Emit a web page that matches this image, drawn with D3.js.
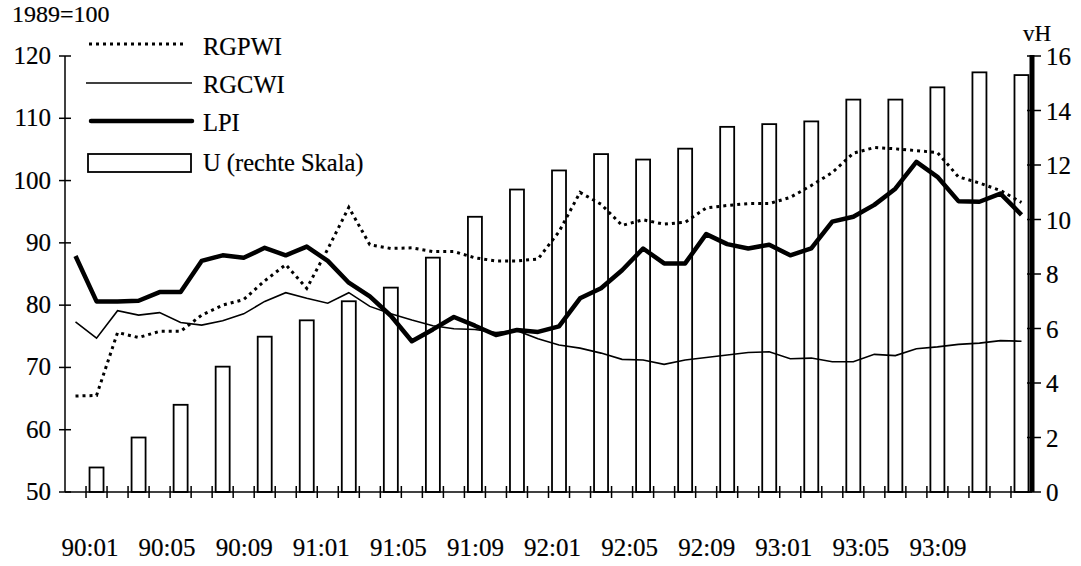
<!DOCTYPE html>
<html lang="de">
<meta charset="utf-8">
<head>
<script src="https://d3js.org/d3.v7.min.js"></script>
<style>
  body { margin: 0; background: #fff; }
  svg text { font-family: "Liberation Serif", "DejaVu Serif", serif; fill: #000; stroke: #000; stroke-width: 0.2px; }
</style>
</head>
<body>
<svg id="chart" width="1081" height="566"></svg>
<script>
// months 90:01 .. 93:10
var months = ["90:01","90:02","90:03","90:04","90:05","90:06","90:07","90:08","90:09","90:10","90:11","90:12",
              "91:01","91:02","91:03","91:04","91:05","91:06","91:07","91:08","91:09","91:10","91:11","91:12",
              "92:01","92:02","92:03","92:04","92:05","92:06","92:07","92:08","92:09","92:10","92:11","92:12",
              "93:01","93:02","93:03","93:04","93:05","93:06","93:07","93:08","93:09","93:10"];

var xLabels = ["90:01","90:05","90:09","91:01","91:05","91:09","92:01","92:05","92:09","93:01","93:05","93:09"];

var rgpwi = [65.4,65.5,75.6,74.8,75.8,75.8,78.4,80.0,80.9,83.9,86.5,82.7,
             89.0,95.7,89.7,89.1,89.2,88.6,88.6,87.6,87.1,87.1,87.4,91.8,
             98.1,96.2,92.8,93.7,93.0,93.3,95.6,96.0,96.3,96.3,97.3,99.2,
             101.3,104.4,105.3,105.1,104.8,104.5,100.6,99.6,98.4,96.5];

var rgcwi = [77.3,74.7,79.1,78.4,78.8,77.2,76.8,77.5,78.6,80.6,82.0,81.1,
             80.3,82.0,79.8,78.6,77.6,76.7,76.2,76.1,75.6,75.9,74.6,73.6,
             73.1,72.3,71.3,71.2,70.5,71.2,71.6,72.0,72.4,72.5,71.4,71.5,
             70.9,70.9,72.1,71.9,73.0,73.3,73.7,73.9,74.3,74.2];

var lpi = [87.9,80.6,80.6,80.7,82.1,82.1,87.1,88.0,87.6,89.2,88.0,89.4,
           87.1,83.6,81.4,78.3,74.2,76.1,78.1,76.7,75.2,76.0,75.7,76.6,
           81.1,82.7,85.6,89.1,86.7,86.7,91.4,89.8,89.1,89.7,88.0,89.1,
           93.4,94.2,96.1,98.7,103.0,100.6,96.7,96.6,97.9,94.5];

// unemployment rate, every second month (right scale, vH)
var uMonths = ["90:02","90:04","90:06","90:08","90:10","90:12","91:02","91:04","91:06","91:08","91:10","91:12",
               "92:02","92:04","92:06","92:08","92:10","92:12","93:02","93:04","93:06","93:08","93:10"];
var uValues = [0.9,2.0,3.2,4.6,5.7,6.3,7.0,7.5,8.6,10.1,11.1,11.8,
               12.4,12.2,12.6,13.4,13.5,13.6,14.4,14.4,14.85,15.4,15.3];

var leftTicks = [50,60,70,80,90,100,110,120];
var rightTicks = [0,2,4,6,8,10,12,14,16];

var svg = d3.select("#chart");
var plotLeft = 65, plotRight = 1032, plotTop = 56, plotBottom = 492;

var x = d3.scaleBand().domain(months).range([plotLeft, plotRight]).padding(0);
var yL = d3.scaleLinear().domain([50, 120]).range([plotBottom, plotTop]);
var yR = d3.scaleLinear().domain([0, 16]).range([plotBottom, plotTop]);
var bw = x.bandwidth();
var cx = function(m) { return x(m) + bw / 2; };

// bars
svg.append("g")
  .selectAll("rect")
  .data(uValues)
  .enter()
  .append("rect")
    .attr("x", function(d, i) { return cx(uMonths[i]) - 7; })
    .attr("width", 14)
    .attr("y", function(d) { return yR(d); })
    .attr("height", function(d) { return plotBottom - yR(d); })
    .attr("fill", "#fff")
    .attr("stroke", "#000")
    .attr("stroke-width", 1.8);

// lines
var line = function(vals) {
  return d3.line()
    .x(function(d, i) { return cx(months[i]); })
    .y(function(d) { return yL(d); })(vals);
};

svg.append("path").attr("d", line(rgcwi))
  .attr("fill", "none").attr("stroke", "#000").attr("stroke-width", 1.6);
svg.append("path").attr("d", line(rgpwi))
  .attr("fill", "none").attr("stroke", "#000").attr("stroke-width", 3)
  .attr("stroke-dasharray", "3,4");
svg.append("path").attr("d", line(lpi))
  .attr("fill", "none").attr("stroke", "#000").attr("stroke-width", 4.5)
  .attr("stroke-linejoin", "round");

// x axis with month ticks crossing the line
var xb = d3.scaleLinear().domain([0, months.length]).range([plotLeft, plotRight]);
svg.append("line")
  .attr("x1", plotLeft).attr("x2", plotRight).attr("y1", plotBottom).attr("y2", plotBottom)
  .attr("stroke", "#000").attr("stroke-width", 1.5);
svg.append("g")
  .selectAll("line")
  .data(d3.range(1, months.length))
  .enter()
  .append("line")
    .attr("x1", function(d) { return xb(d); })
    .attr("x2", function(d) { return xb(d); })
    .attr("y1", plotBottom - 6).attr("y2", plotBottom + 6)
    .attr("stroke", "#000").attr("stroke-width", 1.5);

// the printed labels are spaced evenly, a little tighter than the month grid
var xl = d3.scalePoint().domain(xLabels).range([90, 938]);
svg.append("g")
  .selectAll("text")
  .data(xLabels)
  .enter()
  .append("text")
    .attr("x", function(d) { return xl(d); })
    .attr("y", 556)
    .attr("text-anchor", "middle")
    .style("font-size", "25px")
    .text(function(d) { return d; });

// left axis
svg.append("line")
  .attr("x1", plotLeft).attr("x2", plotLeft).attr("y1", plotTop).attr("y2", plotBottom)
  .attr("stroke", "#000").attr("stroke-width", 1.5);
var lg = svg.append("g").selectAll("g").data(leftTicks).enter().append("g");
lg.append("line")
  .attr("x1", plotLeft - 6).attr("x2", plotLeft + 6)
  .attr("y1", function(d) { return yL(d); }).attr("y2", function(d) { return yL(d); })
  .attr("stroke", "#000").attr("stroke-width", 1.5);
lg.append("text")
  .attr("x", 51).attr("y", function(d) { return yL(d) + 8; })
  .attr("text-anchor", "end")
  .style("font-size", "25px")
  .text(function(d) { return d; });

// right axis (thick)
svg.append("line")
  .attr("x1", plotRight).attr("x2", plotRight).attr("y1", plotTop - 1).attr("y2", plotBottom)
  .attr("stroke", "#000").attr("stroke-width", 5);
var rg = svg.append("g").selectAll("g").data(rightTicks).enter().append("g");
rg.append("line")
  .attr("x1", plotRight - 5).attr("x2", plotRight + 9)
  .attr("y1", function(d) { return yR(d); }).attr("y2", function(d) { return yR(d); })
  .attr("stroke", "#000").attr("stroke-width", 1.5);
rg.append("text")
  .attr("x", 1046).attr("y", function(d) { return yR(d) + 9; })
  .style("font-size", "25px")
  .text(function(d) { return d; });

svg.append("text").attr("x", 12).attr("y", 22).style("font-size", "24px").text("1989=100");
svg.append("text").attr("x", 1037).attr("y", 41).attr("text-anchor", "middle").style("font-size", "23px").text("vH");

// legend
var legend = svg.append("g");
legend.append("line").attr("x1", 89).attr("x2", 186).attr("y1", 44).attr("y2", 44)
  .attr("stroke", "#000").attr("stroke-width", 3).attr("stroke-dasharray", "3,4");
legend.append("line").attr("x1", 86).attr("x2", 192).attr("y1", 83).attr("y2", 83)
  .attr("stroke", "#000").attr("stroke-width", 1.6);
legend.append("line").attr("x1", 91).attr("x2", 192).attr("y1", 121).attr("y2", 121)
  .attr("stroke", "#000").attr("stroke-width", 4.5).attr("stroke-linecap", "round");
legend.append("rect").attr("x", 88).attr("y", 154).attr("width", 103).attr("height", 18)
  .attr("fill", "#fff").attr("stroke", "#000").attr("stroke-width", 1.8);
var legendText = ["RGPWI", "RGCWI", "LPI", "U (rechte Skala)"];
var legendY = [55, 93, 131, 171];
legend.selectAll("text")
  .data(legendText)
  .enter()
  .append("text")
    .attr("x", 203)
    .attr("y", function(d, i) { return legendY[i]; })
    .style("font-size", "24.5px")
    .text(function(d) { return d; });
</script>
</body>
</html>
